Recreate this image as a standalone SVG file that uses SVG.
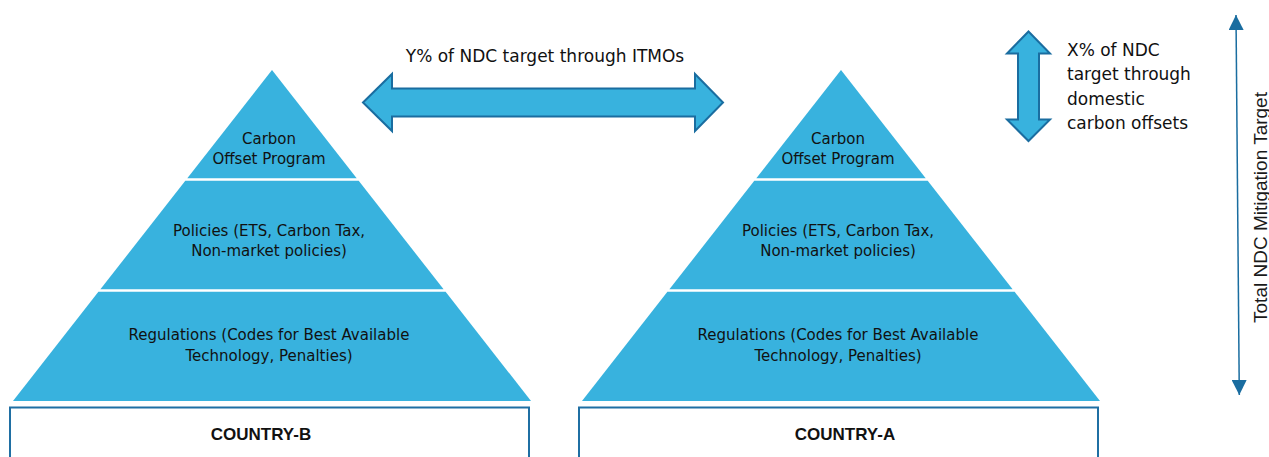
<svg xmlns="http://www.w3.org/2000/svg" width="1269" height="457" viewBox="0 0 1269 457">
  <style>
    .tier { fill: #38b2de; }
    .label { font-family: "DejaVu Sans", "Liberation Sans", sans-serif; font-size: 15px; fill: #111111; text-anchor: middle; }
    .country-box { fill: #ffffff; stroke: #1f6fa3; stroke-width: 2; }
    .country { font-family: "Liberation Sans", Arial, sans-serif; font-size: 17px; font-weight: bold; fill: #111111; text-anchor: middle; }
    .flow { fill: #38b2de; stroke: #1a6da0; stroke-width: 2; stroke-linejoin: miter; }
    .note { font-family: "DejaVu Sans", "Liberation Sans", sans-serif; font-size: 17px; fill: #111111; }
    .axis { stroke: #1a6da0; stroke-width: 1.5; fill: none; }
    .axis-label { font-family: "Liberation Sans", Arial, sans-serif; font-size: 19px; fill: #1a1a1a; text-anchor: middle; }
  </style>
  <defs>
    <marker id="axisHead" viewBox="0 0 10 10" refX="10" refY="5" markerWidth="10" markerHeight="10" orient="auto-start-reverse" markerUnits="strokeWidth">
      <path d="M0,0 L10,5 L0,10 z" fill="#1a6da0"/>
    </marker>
  </defs>

  <!-- Country B pyramid (left) -->
  <g id="country-b">
    <g id="country-b-offsets">
      <polygon class="tier" points="272,70 356.7,178.3 187.3,178.3"/>
      <text class="label" x="269" y="144">Carbon</text>
      <text class="label" x="269" y="164">Offset Program</text>
    </g>
    <g id="country-b-policies">
      <polygon class="tier" points="185.3,180.8 358.7,180.8 443.6,289.3 100.4,289.3"/>
      <text class="label" x="269" y="236">Policies (ETS, Carbon Tax,</text>
      <text class="label" x="269" y="256">Non-market policies)</text>
    </g>
    <g id="country-b-regulations">
      <polygon class="tier" points="98.4,291.8 445.6,291.8 531,401 13,401"/>
      <text class="label" x="269" y="340">Regulations (Codes for Best Available</text>
      <text class="label" x="269" y="361">Technology, Penalties)</text>
    </g>
    <g id="country-b-base">
      <rect class="country-box" x="10" y="407.5" width="519" height="60"/>
      <text class="country" x="261" y="440">COUNTRY-B</text>
    </g>
  </g>

  <!-- Country A pyramid (right) -->
  <g id="country-a">
    <g id="country-a-offsets">
      <polygon class="tier" points="841,70 925.7,178.3 756.3,178.3"/>
      <text class="label" x="838" y="144">Carbon</text>
      <text class="label" x="838" y="164">Offset Program</text>
    </g>
    <g id="country-a-policies">
      <polygon class="tier" points="754.3,180.8 927.7,180.8 1012.6,289.3 669.4,289.3"/>
      <text class="label" x="838" y="236">Policies (ETS, Carbon Tax,</text>
      <text class="label" x="838" y="256">Non-market policies)</text>
    </g>
    <g id="country-a-regulations">
      <polygon class="tier" points="667.4,291.8 1014.6,291.8 1100,401 582,401"/>
      <text class="label" x="838" y="340">Regulations (Codes for Best Available</text>
      <text class="label" x="838" y="361">Technology, Penalties)</text>
    </g>
    <g id="country-a-base">
      <rect class="country-box" x="579" y="407.5" width="519" height="60"/>
      <text class="country" x="845" y="440">COUNTRY-A</text>
    </g>
  </g>

  <!-- Connectors: ITMO transfer, domestic offsets, total target axis -->
  <g id="connectors">
    <g id="itmo-transfer">
      <polygon class="flow" points="363,102.5 392,74 392,88.5 695,88.5 695,74 723,102.5 695,131 695,116.5 392,116.5 392,131"/>
      <text class="note" x="545" y="61.7" text-anchor="middle">Y% of NDC target through ITMOs</text>
    </g>
    <g id="domestic-offsets">
      <polygon class="flow" points="1028.5,31.5 1050,53.5 1039,53.5 1039,119.5 1050,119.5 1028.5,141 1007,119.5 1018,119.5 1018,53.5 1007,53.5"/>
      <text class="note" x="1067" y="55.7">X% of NDC</text>
      <text class="note" x="1067" y="80">target through</text>
      <text class="note" x="1067" y="104.5">domestic</text>
      <text class="note" x="1067" y="129">carbon offsets</text>
    </g>
    <g id="total-target">
      <line class="axis" x1="1236" y1="15" x2="1239.3" y2="395" marker-start="url(#axisHead)" marker-end="url(#axisHead)"/>
      <text class="axis-label" transform="translate(1267,207.5) rotate(-90)">Total NDC Mitigation Target</text>
    </g>
  </g>
</svg>
